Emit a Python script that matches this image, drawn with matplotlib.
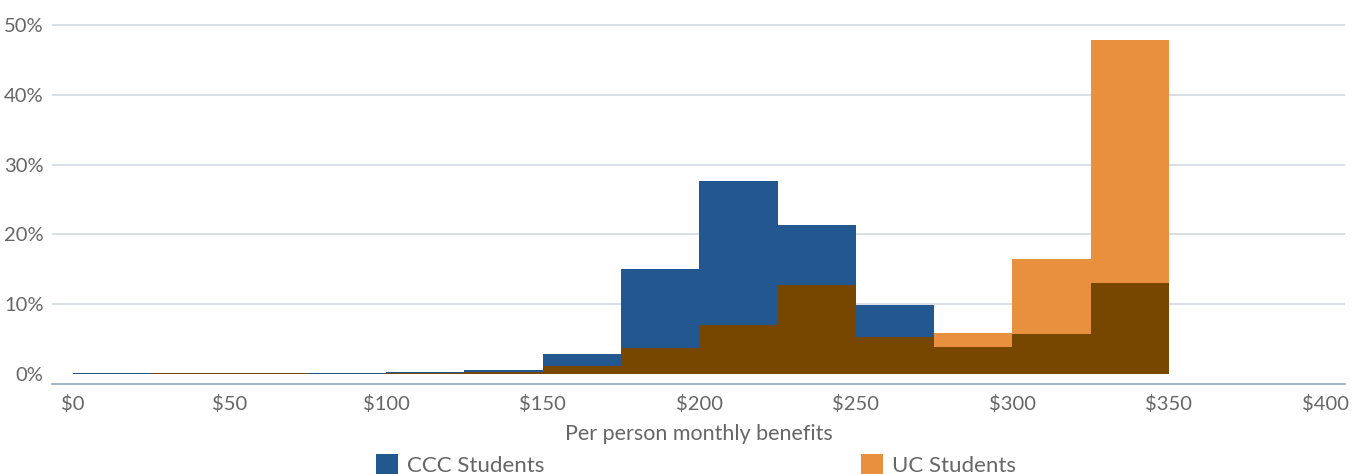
import numpy as np
import matplotlib
matplotlib.use("Agg")
import matplotlib.pyplot as plt
from matplotlib.patches import Patch

# Data: histogram bins of $25 (left edges) and shares in percent
bin_left = [0, 25, 50, 75, 100, 125, 150, 175, 200, 225, 250, 275, 300, 325]
bin_width = 25
ccc_pct = [0.2, 0.2, 0.2, 0.2, 0.25, 0.53, 2.82, 15.04, 27.65, 21.35, 9.9, 3.87, 5.73, 13.04]
uc_pct = [0.0, 0.2, 0.2, 0.05, 0.1, 0.25, 1.15, 3.77, 7.0, 12.75, 5.3, 5.87, 16.5, 47.85]
x_ticks = [0, 50, 100, 150, 200, 250, 300, 350, 400]
x_tick_labels = ["$0", "$50", "$100", "$150", "$200", "$250", "$300", "$350", "$400"]
y_ticks = [0, 10, 20, 30, 40, 50]
y_tick_labels = ["0%", "10%", "20%", "30%", "40%", "50%"]
series_names = ["CCC Students", "UC Students"]

BLUE = "#22578F"
ORANGE = "#E9903F"
BROWN = "#774700"
TEXT = "#666666"
GRID = "#D3D9E2"
AXIS = "#8FA5C3"

plt.rcParams['font.family'] = ['Lato', 'DejaVu Sans']

W, H = 1357, 474
fig = plt.figure(figsize=(W / 100, H / 100), dpi=100)

# axes in pixel coordinates
left_px, right_px = 52, 1345
top_px, bottom_px = 22, 384
ax = fig.add_axes([left_px / W, 1 - bottom_px / H, (right_px - left_px) / W, (bottom_px - top_px) / H])

px_per_dollar = (1169 - 73) / 350.0
x0_px = 73
ax.set_xlim((left_px - x0_px) / px_per_dollar, (right_px - x0_px) / px_per_dollar)
px_per_pct = 6.98
y0_px = 374
ax.set_ylim((y0_px - bottom_px) / px_per_pct, (y0_px - top_px) / px_per_pct)

ccc = np.array(ccc_pct)
uc = np.array(uc_pct)
overlap = np.minimum(ccc, uc)

ax.bar(bin_left, ccc, width=bin_width, align='edge', color=BLUE, linewidth=0, zorder=2)
ax.bar(bin_left, uc, width=bin_width, align='edge', color=ORANGE, linewidth=0, zorder=2)
ax.bar(bin_left, overlap, width=bin_width, align='edge', color=BROWN, linewidth=0, zorder=3)

for yv in y_ticks[1:]:
    ax.axhline(yv, color=GRID, linewidth=1.2, zorder=1)

ax.set_xticks(x_ticks)
ax.set_xticklabels(x_tick_labels)
ax.set_yticks(y_ticks)
ax.set_yticklabels(y_tick_labels)
ax.tick_params(axis='both', length=0, colors=TEXT, labelsize=14.5)
ax.tick_params(axis='x', pad=8)
ax.tick_params(axis='y', pad=6)

for s in ['top', 'right', 'left']:
    ax.spines[s].set_visible(False)
ax.spines['bottom'].set_color(AXIS)
ax.spines['bottom'].set_linewidth(1.2)

ax.set_xlabel("Per person monthly benefits", fontsize=15.5, color=TEXT, labelpad=8)

handles = [Patch(facecolor=BLUE, edgecolor='none'), Patch(facecolor=ORANGE, edgecolor='none')]
fs_leg = 16
px_em = fs_leg * 100 / 72.0
fig.legend(handles, series_names, loc='center', ncol=2,
           bbox_to_anchor=(0.5128, 9 / H), frameon=False,
           fontsize=fs_leg, labelcolor=TEXT,
           handlelength=22 / px_em, handleheight=22 / px_em, handletextpad=9 / px_em,
           columnspacing=317 / px_em, borderaxespad=0, borderpad=0)

fig.savefig("out.png", dpi=100)
